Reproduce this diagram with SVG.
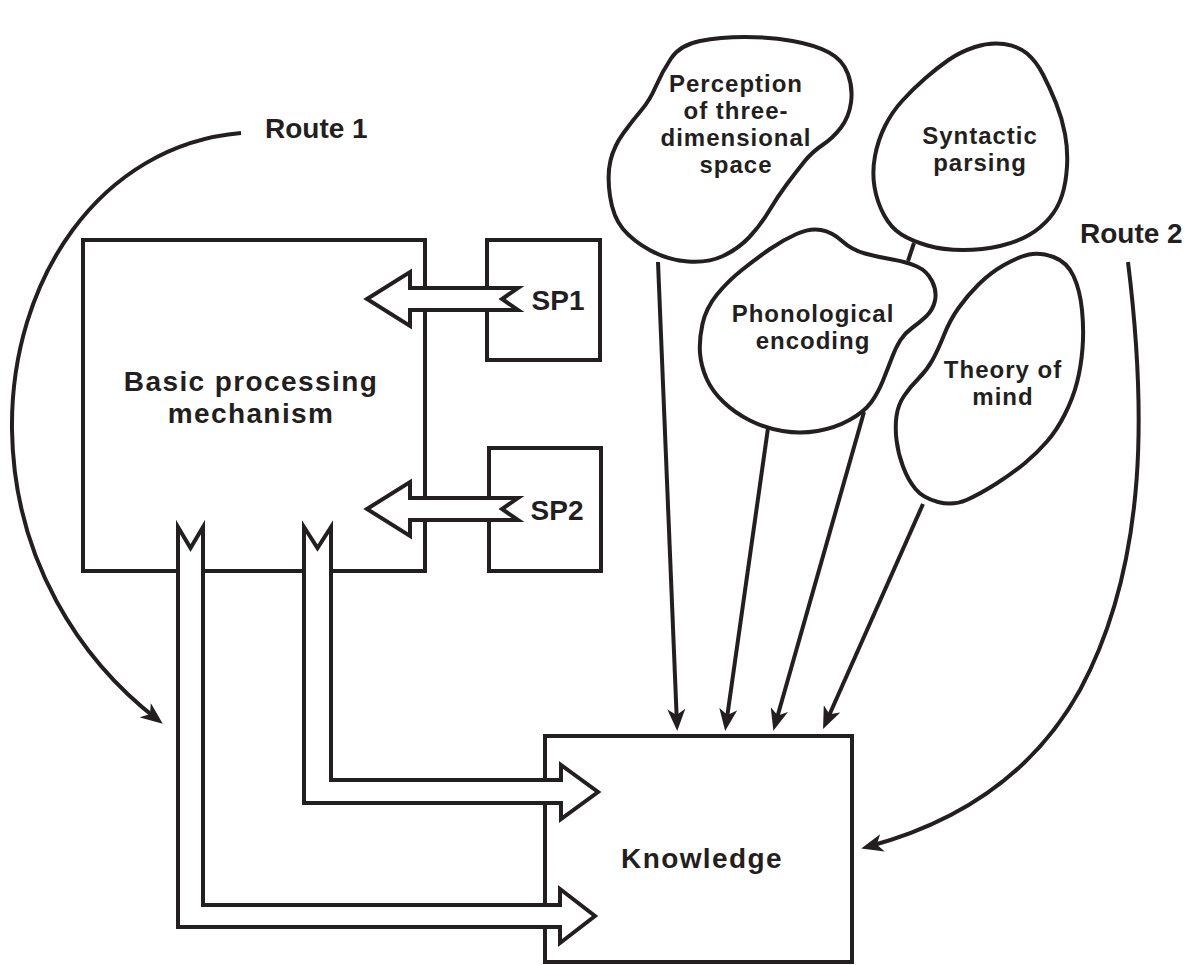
<svg xmlns="http://www.w3.org/2000/svg" width="1195" height="965" viewBox="0 0 1195 965">
<style>
.box{fill:none;stroke:#231f20;stroke-width:4;stroke-linejoin:miter}
.blob{fill:#fff;stroke:#231f20;stroke-width:4}
.blk{fill:#fff;stroke:#231f20;stroke-width:4;stroke-linejoin:miter;stroke-miterlimit:10}
.ln{fill:none;stroke:#231f20;stroke-width:4}
.t{font-family:"Liberation Sans",Arial,Helvetica,sans-serif;font-weight:bold;fill:#231f20}
.big{font-size:28px;letter-spacing:1.4px}
.lab{font-size:28px}
.sm{font-size:24px;letter-spacing:1px}
.mid{text-anchor:middle}
</style>
<defs>
<marker id="ah" viewBox="0 0 22 18" refX="16" refY="9" markerWidth="22" markerHeight="18" markerUnits="userSpaceOnUse" orient="auto">
<path d="M0,0 L22,9 L0,18 L6,9 Z" fill="#231f20"/>
</marker>
</defs>
<rect width="1195" height="965" fill="#fff"/>

<g id="basic">
<rect class="box" x="83" y="240" width="342" height="331"/>
<text class="t big mid" x="251" y="391">Basic processing</text>
<text class="t big mid" x="251" y="423">mechanism</text>
</g>
<g id="sp1">
<rect class="box" x="487" y="240" width="113" height="120"/>
<text class="t lab mid" x="558" y="310">SP1</text>
</g>
<g id="sp2">
<rect class="box" x="489" y="448" width="112" height="123"/>
<text class="t lab mid" x="557" y="520">SP2</text>
</g>
<g id="knowledge">
<rect class="box" x="545" y="736" width="307" height="226"/>
<text class="t big mid" x="702" y="868">Knowledge</text>
</g>
<g id="perception">
<path class="blob" d="M671,58.5 Q680,45 700,41 Q720,37 745,37 Q770,37 792.5,41 Q815,45 829,52.5 Q843,60 848,74 Q853,88 851,102.5 Q849,117 841,127.5 Q833,138 822.5,145 Q812,152 804,162 Q796,172 787,184 Q778,196 769,211 Q760,226 749,237.5 Q738,249 723,256 Q708,263 688,261.5 Q668,260 650.5,250.5 Q633,241 623,229 Q613,217 610,196 Q607,175 610.5,160.5 Q614,146 623.5,133 Q633,120 641.5,110 Q650,100 656,86 Q662,72 671,58.5 Z"/>
<text class="t sm mid" x="736" y="92">Perception</text>
<text class="t sm mid" x="736" y="119">of three-</text>
<text class="t sm mid" x="736" y="146">dimensional</text>
<text class="t sm mid" x="736" y="173">space</text>
</g>
<g id="syntactic">
<path class="blob" d="M975,47 Q990,42 1004,44 Q1018,46 1027,53.5 Q1036,61 1043,74.5 Q1050,88 1056,103 Q1062,118 1065,134 Q1068,150 1067,166.5 Q1066,183 1062,195.5 Q1058,208 1049.5,218 Q1041,228 1029,235 Q1017,242 1000,246 Q983,250 963,250 Q943,250 927.5,245.5 Q912,241 901.5,234.5 Q891,228 884,215 Q877,202 874.5,187 Q872,172 875,156 Q878,140 885,126 Q892,112 902.5,100.5 Q913,89 925,78.5 Q937,68 948.5,60 Q960,52 975,47 Z"/>
<text class="t sm mid" x="980" y="144">Syntactic</text>
<text class="t sm mid" x="980" y="171">parsing</text>
</g>
<g id="phonological">
<path class="blob" d="M700,353 Q699,340 702.5,324 Q706,308 717,294.5 Q728,281 742.5,269.5 Q757,258 770,249 Q783,240 796.5,234 Q810,228 821,230 Q832,232 842,241 Q852,250 865,253.5 Q878,257 892.5,259.5 Q907,262 917,266.5 Q927,271 932,281 Q937,291 935,300.5 Q933,310 926,316.5 Q919,323 912,328 Q905,333 900.5,340 Q896,347 892,357.5 Q888,368 883,380.5 Q878,393 871,402.5 Q864,412 849.5,420 Q835,428 817.5,431 Q800,434 782.5,431 Q765,428 750,420.5 Q735,413 723.5,402 Q712,391 706.5,378.5 Q701,366 700,353 Z"/>
<text class="t sm mid" x="813" y="322">Phonological</text>
<text class="t sm mid" x="813" y="349">encoding</text>
</g>
<g id="theory">
<path class="blob" d="M1029,254.5 Q1040,252 1053.5,257 Q1067,262 1073.5,276 Q1080,290 1082,310 Q1084,330 1082.5,348.5 Q1081,367 1077,382.5 Q1073,398 1065,414 Q1057,430 1047,441.5 Q1037,453 1025,463 Q1013,473 996.5,483.5 Q980,494 966.5,500 Q953,506 938,502 Q923,498 915.5,489 Q908,480 903,466.5 Q898,453 896.5,440 Q895,427 896.5,416 Q898,405 904,396 Q910,387 918.5,378.5 Q927,370 932.5,360 Q938,350 944,335 Q950,320 958.5,308 Q967,296 978.5,284.5 Q990,273 1004,265 Q1018,257 1029,254.5 Z"/>
<text class="t sm mid" x="1003" y="378">Theory of</text>
<text class="t sm mid" x="1003" y="405">mind</text>
</g>
<g id="route1">
<text class="t lab" x="265" y="138">Route 1</text>
</g>
<g id="route2">
<text class="t lab" x="1080" y="243">Route 2</text>
</g>

<g id="connectors">
<path class="blk" d="M367,299 L410,272 L410,288 L518,288 L502,299 L518,310 L410,310 L410,326 Z"/>
<path class="blk" d="M367,509 L410,482 L410,498 L518,498 L502,509 L518,520 L410,520 L410,536 Z"/>
<path class="blk" d="M178,527 L190.5,548 L203,527 L203,905 L560,905 L560,889 L595,916 L560,943 L560,927 L178,927 Z"/>
<path class="blk" d="M304,527 L317.5,548 L331,527 L331,780 L561,780 L561,765 L598,792 L561,819 L561,803 L304,803 Z"/>
<line class="ln" x1="914" y1="243" x2="908" y2="261"/>
<line class="ln" x1="658" y1="262" x2="677" y2="725" marker-end="url(#ah)"/>
<line class="ln" x1="768" y1="428" x2="726" y2="725" marker-end="url(#ah)"/>
<line class="ln" x1="864" y1="412" x2="775" y2="725" marker-end="url(#ah)"/>
<line class="ln" x1="923" y1="504" x2="825.5" y2="723.5" marker-end="url(#ah)"/>
<path class="ln" d="M241,133 C100,145 10,280 12,430 C14,560 80,660 158,720" marker-end="url(#ah)"/>
<path class="ln" d="M1128,262 C1145,400 1150,560 1080,690 C1030,780 950,825 867,847" marker-end="url(#ah)"/>
</g>
</svg>
